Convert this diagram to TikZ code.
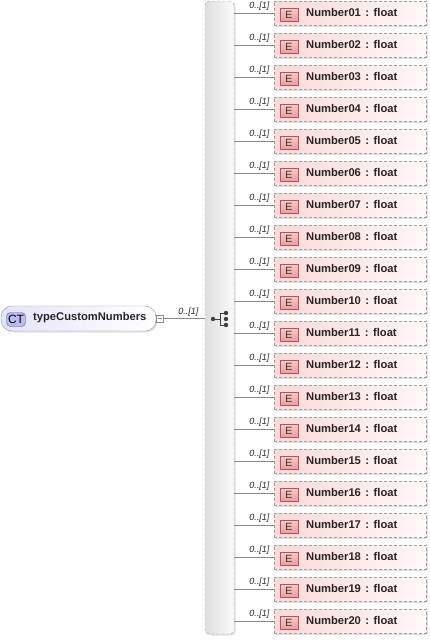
\documentclass[tikz,border=0pt]{standalone}
\usepackage{fontspec}
\setmainfont{Liberation Sans}
\usetikzlibrary{positioning,shadows,calc}
\definecolor{boxgray}{HTML}{A0A0A0}
\definecolor{linegray}{HTML}{8A8A8A}
\definecolor{elemleft}{HTML}{FCD8D8}
\definecolor{elemright}{HTML}{FFF7F7}
\definecolor{ebadgetop}{HTML}{FAC8C8}
\definecolor{ebadgebot}{HTML}{EE9E9E}
\definecolor{ebadgeline}{HTML}{A85A5A}
\definecolor{ctline}{HTML}{9494C4}
\definecolor{ctleft}{HTML}{E4E4FA}
\definecolor{ctbadge}{HTML}{BCBCF2}
\definecolor{ctbadgeline}{HTML}{5C5CA0}
\definecolor{seqleft}{HTML}{DEDEDE}
\definecolor{seqright}{HTML}{FAFAFA}
\tikzset{
  shade/.style={drop shadow={shadow xshift=1.5pt, shadow yshift=-1.5pt,
      fill=black, opacity=.12}},
  elem/.style={draw=boxgray, dash pattern=on 3pt off 2pt, shade,
    left color=elemleft, right color=elemright,
    minimum width=152pt, minimum height=24pt, inner sep=0pt},
  ebadge/.style={draw=ebadgeline, top color=ebadgetop, bottom color=ebadgebot,
    minimum width=18pt, minimum height=13pt, inner sep=0pt,
    font=\fontsize{10.5}{12}\selectfont, text=black!80},
  etext/.style={font=\fontsize{11.2}{13}\selectfont\bfseries, inner sep=0pt,
    anchor=west, text=black!85},
  card/.style={font=\fontsize{9}{10}\selectfont\itshape, inner sep=0pt,
    text=black!85},
  conn/.style={draw=linegray, line width=0.7pt},
}
\begin{document}
\begin{tikzpicture}[x=1pt, y=-1pt]
  \useasboundingbox (0,0) rectangle (430,641);
  % sequence compartment
  \node[draw=boxgray, dash pattern=on 3pt off 2pt, rounded corners=4pt,
    left color=seqleft, right color=seqright, shade,
    minimum width=29pt, minimum height=633pt, inner sep=0pt]
    (seq) at (219.5,317.5) {};
  \fill[black!75] (213,319) circle (2.2pt);
  \draw[black!75, line width=1pt] (213,319) -- (220,319)
    (220,313) -- (220,325) (220,313) -- (226,313) (220,325) -- (226,325);
  \foreach \yy in {313,319,325} \fill[black!75] (226,\yy) circle (2.2pt);
  % complex type
  \node[draw=ctline, rounded corners=11pt, left color=ctleft, right color=white,
    shade, minimum width=155pt, minimum height=25pt, inner sep=0pt]
    (ct) at (78.5,318.5) {};
  \node[draw=ctbadgeline, fill=ctbadge, rounded corners=4pt, minimum width=19pt,
    minimum height=14pt, inner sep=0pt, font=\fontsize{12}{13}\selectfont]
    (ctb) at (16,319.5) {CT};
  \node[etext] (ctname) at (33,318) {typeCustomNumbers};
  \node[draw=linegray, fill=white, minimum size=7pt, inner sep=0pt]
    (fold) at (160,318.5) {};
  \draw[linegray] ($(fold.west)+(1.5,0)$) -- ($(fold.east)+(-1.5,0)$);
  \draw[conn] (fold.east) -- (seq.west |- fold.east)
    node[card, pos=1, anchor=south east, xshift=-6pt, yshift=2pt] {0..[1]};
  % elements
  \foreach \n [count=\k from 0] in {01,02,03,04,05,06,07,08,09,10,
      11,12,13,14,15,16,17,18,19,20} {
    \pgfmathsetmacro{\yy}{13+32*\k}
    \node[elem] (e\n) at (350,\yy) {};
    \node[ebadge] (b\n) at (289,\yy+1.5) {E};
    \node[etext] (t\n) at (306,\yy-0.5) {Number\n\hspace{4.5pt}:\hspace{4.5pt}float};
    \draw[conn] (seq.east |- e\n.west) -- (e\n.west)
      node[card, pos=1, anchor=south east, xshift=-4pt, yshift=2pt] {0..[1]};
  }
\end{tikzpicture}
\end{document}
